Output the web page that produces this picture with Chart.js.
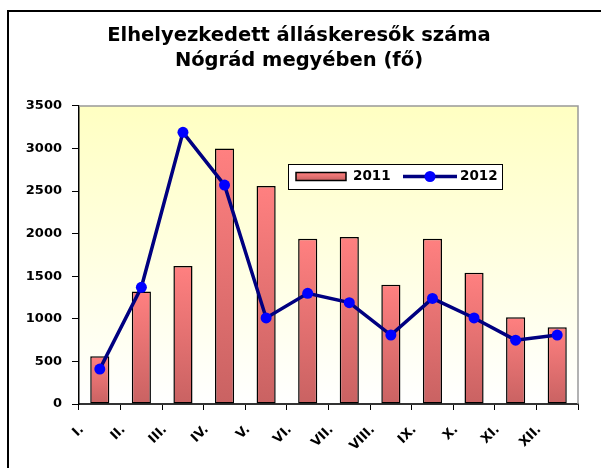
<!DOCTYPE html>
<html>
<head>
<meta charset="utf-8">
<script src="https://cdn.jsdelivr.net/npm/chart.js@4.4.1/dist/chart.umd.min.js"></script>
<style>
  html, body { margin: 0; padding: 0; background: #fff; }
  #wrap { width: 601px; height: 468px; }
</style>
</head>
<body>
<div id="wrap"><canvas id="chart" width="601" height="468"></canvas></div>
<script>
// --- data ---
const months = ['I.', 'II.', 'III.', 'IV.', 'V.', 'VI.', 'VII.', 'VIII.', 'IX.', 'X.', 'XI.', 'XII.'];
const values2011 = [560, 1320, 1620, 3000, 2560, 1940, 1960, 1400, 1940, 1540, 1020, 900];
const values2012 = [410, 1370, 3190, 2570, 1010, 1300, 1190, 810, 1240, 1010, 750, 810];
const titleLines = ['Elhelyezkedett álláskeresők száma', 'Nógrád megyében (fő)'];

const FONT = "'DejaVu Sans', 'Liberation Sans', Arial, sans-serif";

// bar fill: light salmon on top, darker toward the base
const barGradient = (ctx, top, bottom) => {
    const g = ctx.createLinearGradient(0, top, 0, bottom);
    g.addColorStop(0, '#ff8080');
    g.addColorStop(1, '#c96262');
    return g;
};

// frame + yellowish plot background
const framePlugin = {
    id: 'frame',
    beforeDraw(chart) {
        const { ctx, chartArea: a } = chart;
        ctx.save();
        ctx.strokeStyle = '#000';
        ctx.lineWidth = 2;
        ctx.strokeRect(8, 11, 800, 800);
        const g = ctx.createLinearGradient(0, a.top, 0, a.bottom);
        g.addColorStop(0, '#ffffc2');
        g.addColorStop(1, '#ffffff');
        ctx.fillStyle = g;
        ctx.fillRect(a.left, a.top, a.right - a.left, a.bottom - a.top);
        ctx.restore();
    },
    beforeDatasetsDraw(chart) {
        const { ctx, chartArea: a } = chart;
        ctx.save();
        ctx.strokeStyle = '#999';
        ctx.lineWidth = 1.5;
        ctx.beginPath();
        ctx.moveTo(a.left, a.top);
        ctx.lineTo(a.right, a.top);
        ctx.lineTo(a.right, a.bottom);
        ctx.stroke();
        ctx.restore();
    }
};

// legend box inside the plot, like the original
const legendPlugin = {
    id: 'boxLegend',
    afterDatasetsDraw(chart) {
        const { ctx } = chart;
        const [bars, line] = chart.data.datasets;
        const x = 288, y = 164, w = 214, h = 25, mid = y + 12.5;
        ctx.save();
        ctx.fillStyle = '#fff';
        ctx.fillRect(x, y, w, h);
        ctx.strokeStyle = '#000';
        ctx.lineWidth = 1;
        ctx.strokeRect(x + 0.5, y + 0.5, w, h);

        ctx.fillStyle = barGradient(ctx, mid - 4, mid + 4);
        ctx.fillRect(296, mid - 4, 50, 8);
        ctx.lineWidth = 1.5;
        ctx.strokeRect(296, mid - 4, 50, 8);

        ctx.font = `bold 13.5px ${FONT}`;
        ctx.fillStyle = '#000';
        ctx.textBaseline = 'middle';
        ctx.fillText(bars.label, 353, mid);

        ctx.strokeStyle = line.borderColor;
        ctx.lineWidth = line.borderWidth;
        ctx.beginPath();
        ctx.moveTo(403, mid);
        ctx.lineTo(457, mid);
        ctx.stroke();
        ctx.fillStyle = line.pointBackgroundColor;
        ctx.beginPath();
        ctx.arc(430, mid, line.pointRadius, 0, Math.PI * 2);
        ctx.fill();

        ctx.fillStyle = '#000';
        ctx.fillText(line.label, 460, mid);
        ctx.restore();
    }
};

new Chart(document.getElementById('chart'), {
    type: 'bar',
    data: {
        labels: months,
        datasets: [
            {
                type: 'bar',
                label: '2011',
                data: values2011,
                order: 2,
                backgroundColor: (c) => {
                    const chart = c.chart;
                    if (!chart.chartArea || c.type !== 'data') return '#f08080';
                    const ys = chart.scales.y;
                    return barGradient(chart.ctx, ys.getPixelForValue(c.parsed.y), ys.getPixelForValue(0));
                },
                borderColor: '#000',
                borderWidth: 1.5,
                borderSkipped: false,
                barPercentage: 0.46,
                categoryPercentage: 1
            },
            {
                type: 'line',
                label: '2012',
                data: values2012,
                order: 1,
                borderColor: '#000080',
                borderWidth: 3.5,
                tension: 0,
                pointRadius: 5.5,
                pointBackgroundColor: '#0000ff',
                pointBorderColor: '#0000ff',
                pointBorderWidth: 0,
                fill: false
            }
        ]
    },
    options: {
        responsive: false,
        animation: false,
        devicePixelRatio: 1,
        // left padding balances the right one so the title stays centred
        layout: { padding: { left: 20, right: 23, top: 0, bottom: 0 } },
        plugins: {
            legend: { display: false },
            tooltip: { enabled: false },
            title: {
                display: true,
                text: titleLines,
                color: '#000',
                font: { family: FONT, size: 19.5, weight: 'bold', lineHeight: 1.28 },
                padding: { top: 23, bottom: 33 }
            }
        },
        scales: {
            x: {
                offset: true,
                grid: { offset: true, drawOnChartArea: false, drawTicks: true, tickLength: 6, color: '#000', lineWidth: 1 },
                border: { display: true, color: '#333', width: 2 },
                ticks: {
                    autoSkip: false,
                    minRotation: 45,
                    maxRotation: 45,
                    labelOffset: -18,
                    padding: 12,
                    color: '#000',
                    font: { family: FONT, size: 13, weight: 'bold' }
                },
                afterFit: (s) => { s.height = 64; }
            },
            y: {
                min: 0,
                max: 3500,
                grid: { drawOnChartArea: false, drawTicks: true, tickLength: 7, color: '#000', lineWidth: 1 },
                border: { display: true, color: '#000', width: 1.5 },
                ticks: {
                    stepSize: 500,
                    padding: 10,
                    color: '#000',
                    font: { family: FONT, size: 13, weight: 'bold' },
                    callback: (v) => String(v)
                },
                afterFit: (s) => { s.width = 59; }
            }
        }
    },
    plugins: [framePlugin, legendPlugin]
});
</script>
</body>
</html>
